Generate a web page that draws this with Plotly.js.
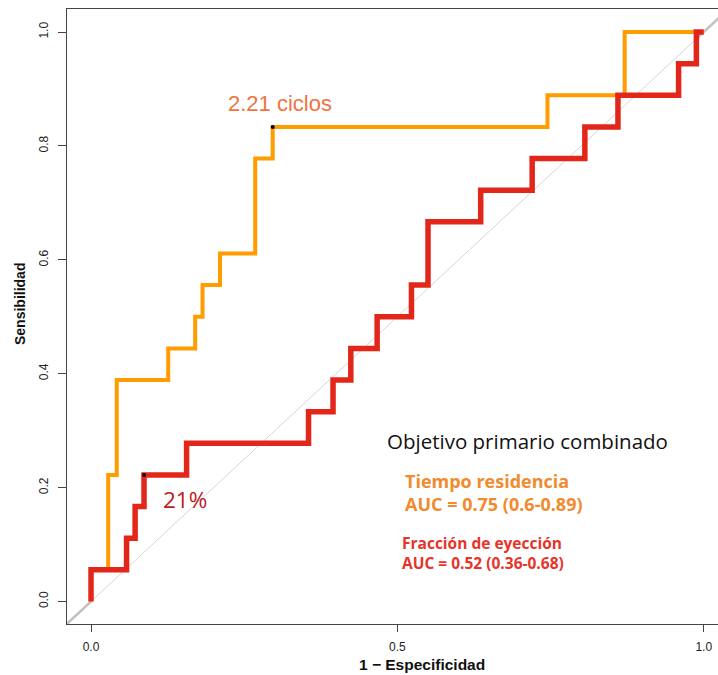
<!DOCTYPE html>
<html>
<head>
<meta charset="utf-8">
<script src="https://cdn.plot.ly/plotly-3.0.1.min.js"></script>
<style>html,body{margin:0;padding:0;background:#fff;}#chart{width:718px;height:675px;}</style>
</head>
<body>
<div id="chart"></div>
<script>
// ROC data: 1 - specificity (fpr) and sensitivity (tpr) at each step corner
const tiempoFpr = [0, 0.028, 0.042, 0.126, 0.170, 0.182, 0.2105, 0.268, 0.2965, 0.745, 0.871, 1.0];
const tiempoTpr = [0, 0.0556, 0.2222, 0.3889, 0.4444, 0.5, 0.5556, 0.6111, 0.7778, 0.8333, 0.8889, 1.0];
const fraccionFpr = [0, 0.058, 0.072, 0.0865, 0.156, 0.355, 0.395, 0.424, 0.467, 0.523, 0.55, 0.636, 0.72, 0.806, 0.86, 0.959, 0.988, 1.0];
const fraccionTpr = [0, 0.0556, 0.1111, 0.1667, 0.2222, 0.2778, 0.3333, 0.3889, 0.4444, 0.5, 0.5556, 0.6667, 0.7222, 0.7778, 0.8333, 0.8889, 0.9444, 1.0];
// optimal cut-off points
const cutTiempo = {fpr: 0.2965, tpr: 0.8333, label: "2.21 ciclos"};
const cutFraccion = {fpr: 0.0865, tpr: 0.2222, label: "21%"};
const legendTitle = "Objetivo primario combinado";
const tiempoLabel = ["Tiempo residencia", "AUC = 0.75 (0.6-0.89)"];
const fraccionLabel = ["Fracción de eyección", "AUC = 0.52 (0.36-0.68)"];
const xTicks = [0, 0.5, 1];
const xTickText = ["0.0", "0.5", "1.0"];
const yTicks = [0, 0.2, 0.4, 0.6, 0.8, 1.0];
const yTickText = ["0.0", "0.2", "0.4", "0.6", "0.8", "1.0"];
const diagFull = [-0.04, 1.04];
const diagLow = [-0.04, 0];
const diagHigh = [0.99, 1.04];

const ORANGE = "#FF9C00";
const RED = "#E3261A";

const traces = [
  {x: diagFull, y: diagFull, mode: "lines", line: {color: "#d6d6d6", width: 1}, hoverinfo: "skip", showlegend: false},
  {x: diagLow, y: diagLow, mode: "lines", line: {color: "#c2c2c2", width: 2.5}, hoverinfo: "skip", showlegend: false},
  {x: diagHigh, y: diagHigh, mode: "lines", line: {color: "#c2c2c2", width: 2.5}, hoverinfo: "skip", showlegend: false},
  {x: tiempoFpr, y: tiempoTpr, mode: "lines", name: "Tiempo residencia",
   line: {color: ORANGE, width: 4, shape: "vh"}, showlegend: false},
  {x: fraccionFpr, y: fraccionTpr, mode: "lines", name: "Fracción de eyección",
   line: {color: RED, width: 5.5, shape: "vh"}, showlegend: false},
  {x: [cutTiempo.fpr, cutFraccion.fpr], y: [cutTiempo.tpr, cutFraccion.tpr], mode: "markers",
   marker: {color: "#000", size: 4}, showlegend: false}
];

const layout = {
  width: 718, height: 675,
  margin: {l: 67, r: 0, t: 9, b: 51},
  paper_bgcolor: "#fff", plot_bgcolor: "#fff",
  showlegend: false,
  xaxis: {
    range: [-0.0392, 1.0233], showgrid: false, zeroline: false,
    showline: true, linecolor: "#444", linewidth: 1, mirror: true,
    ticks: "outside", ticklen: 7, tickcolor: "#444", ticklabelstandoff: 5,
    tickvals: xTicks, ticktext: xTickText,
    tickfont: {family: "Liberation Sans, Arial, sans-serif", size: 12, color: "#222"}
  },
  yaxis: {
    range: [-0.0395, 1.0405], showgrid: false, zeroline: false,
    showline: true, linecolor: "#444", linewidth: 1,
    ticks: "outside", ticklen: 8, tickcolor: "#444", ticklabelstandoff: 5,
    tickvals: yTicks, ticktext: yTickText, tickangle: -90,
    tickfont: {family: "Liberation Sans, Arial, sans-serif", size: 12, color: "#222"}
  },
  annotations: [
    {xref: "paper", yref: "paper", x: (422-67)/651, y: -(664-624)/615, text: "<b>1 − Especificidad</b>",
     showarrow: false, xanchor: "center", yanchor: "middle",
     font: {family: "Liberation Sans, Arial, sans-serif", size: 15.5, color: "#111"}},
    {xref: "paper", yref: "paper", x: -(67-20)/651, y: (624-304)/615, text: "<b>Sensibilidad</b>", textangle: -90,
     showarrow: false, xanchor: "center", yanchor: "middle",
     font: {family: "Liberation Sans, Arial, sans-serif", size: 14, color: "#111"}},
    {x: 0.308, y: 0.874, text: cutTiempo.label, showarrow: false, xanchor: "center", yanchor: "middle",
     font: {family: "Liberation Sans, Arial, sans-serif", size: 22, color: "#EE7442"}},
    {x: 0.1535, y: 0.1786, text: cutFraccion.label, showarrow: false, xanchor: "center", yanchor: "middle",
     font: {family: "Open Sans, sans-serif", size: 22.5, color: "#C0201C"}},
    {x: 0.480, y: 0.282, text: legendTitle, showarrow: false, xanchor: "left", yanchor: "middle",
     font: {family: "Open Sans, sans-serif", size: 20.5, color: "#111"}},
    {x: 0.5096, y: 0.1918, text: "<b>" + tiempoLabel.join("<br>") + "</b>", showarrow: false,
     xanchor: "left", yanchor: "middle", align: "left",
     font: {family: "Open Sans, sans-serif", size: 18, color: "#F28A2E"}},
    {x: 0.5047, y: 0.0855, text: "<b>" + fraccionLabel.join("<br>") + "</b>", showarrow: false,
     xanchor: "left", yanchor: "middle", align: "left",
     font: {family: "Open Sans, sans-serif", size: 15.5, color: "#E8332A"}}
  ]
};

Plotly.newPlot("chart", traces, layout, {displayModeBar: false, staticPlot: true});
</script>
</body>
</html>
